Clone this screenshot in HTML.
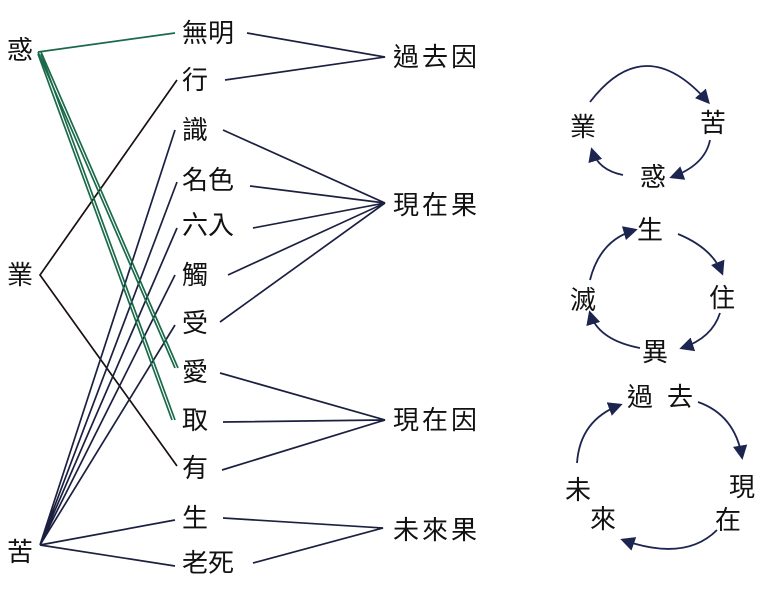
<!DOCTYPE html>
<html><head><meta charset="utf-8"><style>
html,body{margin:0;padding:0;background:#fff;}
svg{display:block;}
text{font-family:"Liberation Sans","Noto Sans CJK TC",sans-serif;font-size:26px;fill:#111;dominant-baseline:central;}
</style></head><body>
<svg width="777" height="599" viewBox="0 0 777 599">
<defs>
<marker id="a" viewBox="0 0 10 10" refX="8" refY="5" markerWidth="8" markerHeight="8" orient="auto"><path d="M0,0 L10,5 L0,10 z" fill="#1c2450"/></marker>
</defs>
<g stroke="#1c2040" stroke-width="1.7" fill="none">
<path d="M177,80 L40,275 L177,466" stroke="#1a1010"/>
<path d="M40,545 L175,130 M40,545 L177,182 M40,545 L177,228 M40,545 L175,275 M40,545 L175,325 M40,545 L175,520 M40,545 L175,566"/>
<path d="M247,33 L385,57 L225,80"/>
<path d="M223,130 L385,203 L250,186 M253,228 L385,203 L228,275 M220,322 L385,203"/>
<path d="M220,373 L385,420 L223,422 M222,470 L385,420"/>
<path d="M223,518 L383,528 L253,563"/>
</g>
<g stroke="#1a6a4a" stroke-width="1.7" fill="none">
<path d="M38,52 L175,33"/>
<path d="M38,52 L175,368"/>
<path d="M41,52 L178,368"/>
<path d="M38,54 L172,420"/>
<path d="M41,54 L175,420"/>
</g>
<text x="7" y="50">惑</text>
<text x="7" y="275">業</text>
<text x="7" y="552">苦</text>
<text x="182" y="33">無明</text>
<text x="182" y="80">行</text>
<text x="182" y="130">識</text>
<text x="182" y="180">名色</text>
<text x="182" y="225">六入</text>
<text x="182" y="275">觸</text>
<text x="182" y="323">受</text>
<text x="182" y="372">愛</text>
<text x="182" y="420">取</text>
<text x="182" y="468">有</text>
<text x="182" y="518">生</text>
<text x="182" y="563">老死</text>
<text x="393" y="57" letter-spacing="3">過去因</text>
<text x="393" y="205" letter-spacing="3">現在果</text>
<text x="393" y="420" letter-spacing="3">現在因</text>
<text x="393" y="530" letter-spacing="3">未來果</text>
<g text-anchor="middle">
<text x="583" y="127" text-anchor="middle">業</text>
<text x="713" y="123" text-anchor="middle">苦</text>
<text x="653" y="177" text-anchor="middle">惑</text>
<text x="650" y="230" text-anchor="middle">生</text>
<text x="722" y="298" text-anchor="middle">住</text>
<text x="655" y="352" text-anchor="middle">異</text>
<text x="583" y="300" text-anchor="middle">滅</text>
<text x="640" y="397" text-anchor="middle">過</text>
<text x="680" y="397" text-anchor="middle">去</text>
<text x="742" y="487" text-anchor="middle">現</text>
<text x="728" y="520" text-anchor="middle">在</text>
<text x="578" y="490" text-anchor="middle">未</text>
<text x="603" y="519" text-anchor="middle">來</text>
</g>
<g stroke="#1c2450" stroke-width="1.8" fill="none" marker-end="url(#a)">
<path d="M590,102 Q645,30 708,102"/>
<path d="M710,140 Q705,165 672,177"/>
<path d="M623,175 Q598,170 592,150"/>
<path d="M678,234 Q712,248 722,273"/>
<path d="M720,313 Q712,338 682,348"/>
<path d="M640,348 Q598,340 590,313"/>
<path d="M590,280 Q600,240 635,230"/>
<path d="M698,402 Q735,415 742,457"/>
<path d="M717,530 Q685,562 623,540"/>
<path d="M577,463 Q580,420 620,405"/>
</g>
</svg>
</body></html>
